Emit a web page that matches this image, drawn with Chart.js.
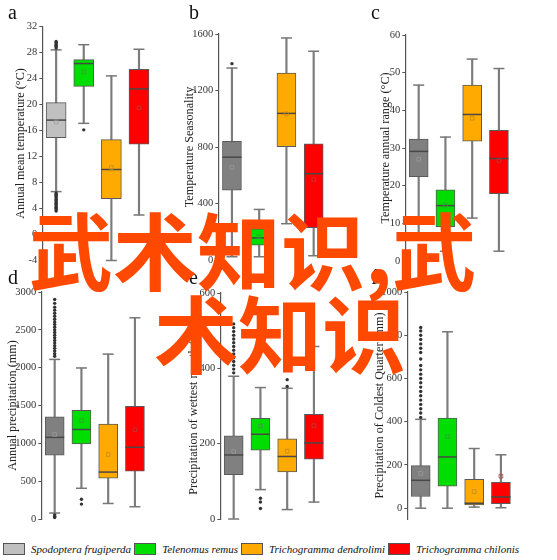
<!DOCTYPE html>
<html>
<head>
<meta charset="utf-8">
<script src="https://cdn.jsdelivr.net/npm/chart.js@4.4.0/dist/chart.umd.min.js"></script>
<style>
  body { margin: 0; background: #fff; }
  #page { position: relative; width: 557px; height: 560px; overflow: hidden; font-family: "Liberation Serif", serif; }
  .panel { position: absolute; }
  .letter { position: absolute; font-size: 20px; line-height: 20px; color: #111; }
  #legend { position: absolute; left: 3px; top: 543px; display: flex; align-items: center; font-style: italic; font-size: 11px; color: #111; white-space: nowrap; }
  .item { display: flex; align-items: center; margin-right: 3px; }
  .swatch { width: 20px; height: 10px; border: 1px solid #555; margin-right: 6px; }
  .mark { position: absolute; z-index: 10; font-family: "Noto Sans CJK SC", sans-serif; font-weight: bold; font-size: 84px; line-height: 84px; color: #ff4800; white-space: nowrap; }
</style>
</head>
<body>
<div id="page">
  <div class="mark" style="left:29px; top:206px;">武术知识,武</div>
  <div class="mark" style="left:154px; top:289px;">术知识</div>
  <div id="legend"></div>
</div>
<script>
const species = ['Spodoptera frugiperda', 'Telenomus remus', 'Trichogramma dendrolimi', 'Trichogramma chilonis'];

// a: annual mean temperature
const annTempMin = [6.6, 17.1, -4.0, 3.0];
const annTempQ1 = [14.9, 22.8, 5.5, 13.9];
const annTempMedian = [17.6, 26.3, 10.0, 22.4];
const annTempQ3 = [20.3, 26.9, 14.6, 25.4];
const annTempMax = [28.4, 29.2, 24.4, 28.5];
const annTempMean = [17.3, 25.0, 10.3, 19.5];
const annTempOutliers = [[28.7, 28.9, 29.1, 29.3, 29.5, 29.7, 6.4, 6.2, 6.0, 5.8, 5.6, 5.4, 5.2, 5.0, 4.8, 4.6, 4.4, 4.2, 4.0, 3.8, 3.6], [16.1], [], []];
const annTempTicks = [-4, 0, 4, 8, 12, 16, 20, 24, 28, 32];

// b: temperature seasonality
const seasMin = [23, 23, 257, 30];
const seasQ1 = [494, 105, 803, 229];
const seasMedian = [728, 156, 1038, 611];
const seasQ3 = [841, 220, 1323, 822];
const seasMax = [1359, 358, 1572, 1478];
const seasMean = [656, 165, 1035, 570];
const seasOutliers = [[1390], [], [], []];
const seasTicks = [0, 400, 800, 1200, 1600];

// c: temperature annual range
const rangeMin = [5.8, 2.6, 11.4, 2.6];
const rangeQ1 = [22.4, 9.1, 31.8, 17.9];
const rangeMedian = [29.1, 14.7, 38.9, 27.2];
const rangeQ3 = [32.4, 18.9, 46.7, 34.7];
const rangeMax = [46.7, 32.9, 53.6, 51.1];
const rangeMean = [27.0, 14.8, 37.9, 26.6];
const rangeOutliers = [[], [], [], []];
const rangeTicks = [0, 10, 20, 30, 40, 50, 60];

// d: annual precipitation
const precMin = [79, 406, 205, 162];
const precQ1 = [843, 991, 541, 633];
const precMedian = [1079, 1183, 620, 948];
const precQ3 = [1349, 1437, 1253, 1489];
const precMax = [2109, 1996, 2179, 2659];
const precMean = [1118, 1300, 852, 1179];
const precOutliers = [[2150, 2185, 2220, 2255, 2290, 2325, 2360, 2395, 2430, 2465, 2500, 2535, 2570, 2605, 2640, 2680, 2720, 2760, 2800, 2850, 2900, 55, 35, 20], [262, 197], [], []];
const precTicks = [0, 500, 1000, 1500, 2000, 2500, 3000];

// e: precipitation of wettest month
const wetMin = [0, 78, 25, 45];
const wetQ1 = [118, 183, 125, 159];
const wetMedian = [170, 225, 166, 202];
const wetQ3 = [221, 267, 213, 278];
const wetMax = [379, 349, 347, 458];
const wetMean = [179, 247, 180, 248];
const wetOutliers = [[388, 398, 408, 418, 428, 438, 448, 458, 468, 478, 488, 498, 508, 518], [55, 45, 28], [370, 352], []];
const wetTicks = [0, 200, 400, 600];

// f: precipitation of coldest quarter
const coldMin = [0, 0, 5, 2];
const coldQ1 = [54, 102, 15, 21];
const coldMedian = [129, 237, 23, 52];
const coldQ3 = [197, 417, 134, 120];
const coldMax = [411, 816, 276, 247];
const coldMean = [161, 331, 77, 148];
const coldOutliers = [[420, 440, 460, 480, 500, 520, 540, 560, 580, 600, 620, 640, 660, 690, 720, 740, 760, 780, 800, 820, 836], [], [], []];
const coldTicks = [0, 200, 400, 600, 800, 1000];

// styles
const speciesColors = ['#c0c0c0', '#00dd00', '#ffaa00', '#ff0000'];
const meanColors = ['#9a9a9a', '#3a9a3a', '#c08a20', '#b04040'];

const panels = [
  { letter: 'a', title: 'Annual mean temperature (\u00b0C)', min: -4, max: 32, ticks: annTempTicks, gray: '#c0c0c0',
    stats: [annTempMin, annTempQ1, annTempMedian, annTempQ3, annTempMax, annTempMean, annTempOutliers],
    g: { axisX: 42, top: 25, bottom: 262, titleGap: 22, step: 30, box: 20, lx: 8, ly: 2 } },
  { letter: 'b', title: 'Temperature Seasonality', min: 0, max: 1600, ticks: seasTicks, gray: '#808080',
    stats: [seasMin, seasQ1, seasMedian, seasQ3, seasMax, seasMean, seasOutliers],
    g: { axisX: 218, top: 33, bottom: 261, titleGap: 29, step: 29.5, box: 19, lx: 189, ly: 2 } },
  { letter: 'c', title: 'Temperature annual range (\u00b0C)', min: 0, max: 60, ticks: rangeTicks, gray: '#808080',
    stats: [rangeMin, rangeQ1, rangeMedian, rangeQ3, rangeMax, rangeMean, rangeOutliers],
    g: { axisX: 405, top: 34, bottom: 262, titleGap: 20, step: 29, box: 19, lx: 371, ly: 2 } },
  { letter: 'd', title: 'Annual precipitation (mm)', min: 0, max: 3000, ticks: precTicks, gray: '#808080',
    stats: [precMin, precQ1, precMedian, precQ3, precMax, precMean, precOutliers],
    g: { axisX: 41, top: 291, bottom: 520, titleGap: 29, step: 29, box: 19, lx: 8, ly: 267 } },
  { letter: 'e', title: 'Precipitation of wettest month (mm)', min: 0, max: 600, ticks: wetTicks, gray: '#808080',
    stats: [wetMin, wetQ1, wetMedian, wetQ3, wetMax, wetMean, wetOutliers],
    g: { axisX: 220, top: 292, bottom: 520, titleGap: 27, step: 29, box: 19, lx: 189, ly: 267 } },
  { letter: 'f', title: 'Precipitation of Coldest Quarter (mm)', min: -50, max: 1000, ticks: coldTicks, gray: '#808080',
    stats: [coldMin, coldQ1, coldMedian, coldQ3, coldMax, coldMean, coldOutliers],
    g: { axisX: 407, top: 291, bottom: 520, titleGap: 28, step: 29, box: 19, lx: 371, ly: 267 } }
];

const page = document.getElementById('page');
const serif = 'Liberation Serif';

function drawPanel(p) {
  const g = p.g;
  const titleSize = 12.2;
  const scaleWidth = g.titleGap + titleSize * 1.2 / 2;

  const box = document.createElement('div');
  box.className = 'panel';
  box.style.left = (g.axisX - scaleWidth) + 'px';
  box.style.top = (g.top - 10) + 'px';
  box.style.width = (scaleWidth + 4 * g.step + 2) + 'px';
  box.style.height = (g.bottom - g.top + 20) + 'px';
  const canvas = document.createElement('canvas');
  box.appendChild(canvas);
  page.appendChild(box);

  const letter = document.createElement('div');
  letter.className = 'letter';
  letter.textContent = p.letter;
  letter.style.left = g.lx + 'px';
  letter.style.top = g.ly + 'px';
  page.appendChild(letter);

  const [lo, q1, med, q3, hi, mean, out] = p.stats;
  const fills = species.map((s, i) => i === 0 ? p.gray : speciesColors[i]);
  const pts = arr => species.map((s, i) => ({ x: s, y: arr[i] }));

  new Chart(canvas, {
    type: 'bar',
    data: {
      labels: species,
      datasets: [
        // whisker line
        { data: species.map((s, i) => [lo[i], hi[i]]), backgroundColor: '#7c7c7c', borderWidth: 0,
          barThickness: 1.5, grouped: false, order: 5 },
        // box
        { data: species.map((s, i) => [q1[i], q3[i]]), backgroundColor: fills, borderColor: '#5a5a5a',
          borderWidth: 1, borderSkipped: false, barThickness: g.box, grouped: false, order: 4 },
        // whisker caps
        { type: 'line', data: pts(lo).concat(pts(hi)), showLine: false, pointStyle: 'line',
          pointRadius: 5.5, pointBorderColor: '#777', pointBorderWidth: 1.5, clip: false, order: 3 },
        // median
        { type: 'line', data: pts(med), showLine: false, pointStyle: 'line',
          pointRadius: g.box / 2, pointBorderColor: '#484848', pointBorderWidth: 1.5, clip: false, order: 2 },
        // outliers
        { type: 'line', data: out.flatMap((vals, i) => vals.map(v => ({ x: species[i], y: v }))), showLine: false,
          pointStyle: 'circle', pointRadius: 1.7, pointBackgroundColor: '#333', pointBorderWidth: 0, clip: false, order: 1 },
        // mean
        { type: 'line', data: pts(mean), showLine: false, pointStyle: 'rect',
          pointRadius: 2.6, pointBackgroundColor: 'rgba(0,0,0,0)', pointBorderColor: meanColors, pointBorderWidth: 0.8, clip: false, order: 0 }
      ]
    },
    options: {
      animation: false,
      responsive: true,
      maintainAspectRatio: false,
      layout: { padding: { top: 10, bottom: 10, left: 0, right: 2 } },
      plugins: { legend: { display: false }, tooltip: { enabled: false } },
      scales: {
        x: { display: false, offset: true },
        y: {
          min: p.min,
          max: p.max,
          afterBuildTicks: s => { s.ticks = p.ticks.map(v => ({ value: v })); },
          afterFit: s => { s.width = scaleWidth; },
          ticks: { autoSkip: false, font: { family: serif, size: 10.5 }, color: '#333', padding: 2,
                   callback: v => String(v) },
          grid: { drawOnChartArea: false, tickLength: 3, color: '#555' },
          border: { color: '#555', width: 1.2 },
          title: { display: true, text: p.title, font: { family: serif, size: titleSize }, color: '#222', padding: { top: 0, bottom: 0 } }
        }
      }
    }
  });
}

panels.forEach(drawPanel);

// legend
const legend = document.getElementById('legend');
species.forEach((name, i) => {
  const item = document.createElement('div');
  item.className = 'item';
  const sw = document.createElement('div');
  sw.className = 'swatch';
  sw.style.background = speciesColors[i];
  const label = document.createElement('span');
  label.textContent = name;
  item.appendChild(sw);
  item.appendChild(label);
  legend.appendChild(item);
});
</script>
</body>
</html>
